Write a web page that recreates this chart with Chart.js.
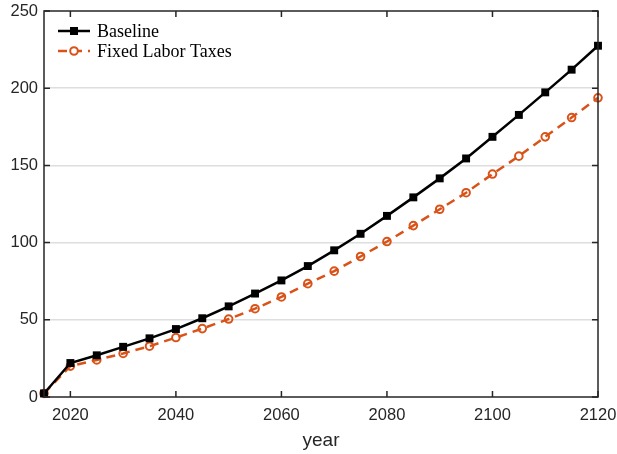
<!DOCTYPE html>
<html>
<head>
<meta charset="utf-8">
<script src="https://cdn.jsdelivr.net/npm/chart.js@4"></script>
<style>
  html, body { margin: 0; padding: 0; background: #fff; }
  #wrap { width: 617px; height: 454px; }
</style>
</head>
<body>
<div id="wrap"><canvas id="myChart" width="617" height="454"></canvas></div>
<script>
const years = [2015, 2020, 2025, 2030, 2035, 2040, 2045, 2050, 2055, 2060, 2065,
    2070, 2075, 2080, 2085, 2090, 2095, 2100, 2105, 2110, 2115, 2120];

const baseline = [2.3, 22, 27, 32.5, 38, 44, 51, 58.7, 67, 75.5, 84.8,
    95, 105.7, 117.3, 129.3, 141.6, 154.5, 168.5, 182.7, 197.3, 212, 227.5];

const fixedLabor = [2.3, 20, 24, 28.2, 32.9, 38.5, 44.3, 50.5, 57.2, 64.8, 73.4,
    81.5, 91, 100.7, 111, 121.6, 132.3, 144.4, 156, 168.5, 181, 193.8];

const xTicks = [2020, 2040, 2060, 2080, 2100, 2120];
const yTicks = [0, 50, 100, 150, 200, 250];

const axisColor = '#262626';
const orange = '#D95319';

const toPoints = (vals) => vals.map((v, i) => ({ x: years[i], y: v }));

// box round the plot plus MATLAB style inward ticks on all four sides
const boxPlugin = {
    id: 'box',
    afterDatasetsDraw(chart) {
        const { ctx, chartArea: a, scales } = chart;
        ctx.save();
        ctx.strokeStyle = axisColor;
        ctx.lineWidth = 1.5;
        ctx.beginPath();
        xTicks.forEach(t => {
            const px = scales.x.getPixelForValue(t);
            ctx.moveTo(px, a.bottom);
            ctx.lineTo(px, a.bottom - 6);
            ctx.moveTo(px, a.top);
            ctx.lineTo(px, a.top + 6);
        });
        yTicks.forEach(t => {
            const py = scales.y.getPixelForValue(t);
            ctx.moveTo(a.left, py);
            ctx.lineTo(a.left + 6, py);
            ctx.moveTo(a.right, py);
            ctx.lineTo(a.right - 6, py);
        });
        ctx.stroke();
        ctx.strokeRect(a.left, a.top, a.right - a.left, a.bottom - a.top);
        ctx.restore();
    }
};

// legend drawn inside the top-left corner
const legendPlugin = {
    id: 'insideLegend',
    afterDraw(chart) {
        const { ctx } = chart;
        const x0 = 58, x1 = 90, tx = 97;
        const rows = [31, 51];
        ctx.save();
        chart.data.datasets.forEach((ds, i) => {
            const y = rows[i];
            ctx.strokeStyle = ds.borderColor;
            ctx.lineWidth = ds.borderWidth;
            ctx.setLineDash(ds.borderDash || []);
            ctx.beginPath();
            ctx.moveTo(x0, y);
            ctx.lineTo(x1, y);
            ctx.stroke();
            ctx.setLineDash([]);
            const cx = (x0 + x1) / 2;
            if (ds.pointStyle === 'rect') {
                ctx.fillStyle = ds.pointBackgroundColor;
                ctx.fillRect(cx - 4, y - 4, 8, 8);
            } else {
                ctx.fillStyle = '#fff';
                ctx.lineWidth = ds.pointBorderWidth;
                ctx.beginPath();
                ctx.arc(cx, y, ds.pointRadius, 0, Math.PI * 2);
                ctx.fill();
                ctx.stroke();
            }
            ctx.fillStyle = '#000';
            ctx.font = '18px "Liberation Serif", serif';
            ctx.textBaseline = 'middle';
            ctx.textAlign = 'left';
            ctx.fillText(ds.label, tx, y + 1);
        });
        ctx.restore();
    }
};

const data = {
    datasets: [{
        label: 'Baseline',
        data: toPoints(baseline),
        borderColor: '#000',
        borderWidth: 2.5,
        pointStyle: 'rect',
        pointRadius: 5.6,
        pointBackgroundColor: '#000',
        pointBorderColor: '#000',
        pointBorderWidth: 0,
        tension: 0,
        clip: 8
    }, {
        label: 'Fixed Labor Taxes',
        data: toPoints(fixedLabor),
        borderColor: orange,
        borderWidth: 2.5,
        borderDash: [9, 6],
        pointStyle: 'circle',
        pointRadius: 3.8,
        pointBackgroundColor: 'rgba(0,0,0,0)',
        pointBorderColor: orange,
        pointBorderWidth: 2,
        tension: 0,
        clip: 8
    }]
};

const config = {
    type: 'line',
    data: data,
    options: {
        responsive: false,
        animation: false,
        layout: { padding: { left: 0, right: 19, top: 11, bottom: 0 } },
        plugins: {
            legend: { display: false },
            tooltip: { enabled: false }
        },
        scales: {
            x: {
                type: 'linear',
                min: 2015,
                max: 2120,
                afterBuildTicks: (scale) => { scale.ticks = xTicks.map(v => ({ value: v })); },
                afterFit: (scale) => {
                    scale.height = 57;
                    scale.paddingLeft = 0;
                    scale.paddingRight = 0;
                },
                grid: { display: false, drawTicks: false },
                border: { display: false },
                ticks: {
                    color: axisColor,
                    font: { family: '"Liberation Sans", Arial, sans-serif', size: 16.5 },
                    padding: 9,
                    maxRotation: 0,
                    callback: (v) => String(v)
                },
                title: {
                    display: true,
                    text: 'year',
                    color: axisColor,
                    font: { family: '"Liberation Sans", Arial, sans-serif', size: 19 },
                    padding: { top: 0, bottom: 2 }
                }
            },
            y: {
                min: 0,
                max: 250,
                afterBuildTicks: (scale) => { scale.ticks = yTicks.map(v => ({ value: v })); },
                afterFit: (scale) => {
                    scale.width = 44;
                    scale.paddingTop = 0;
                    scale.paddingBottom = 0;
                },
                grid: {
                    color: (c) => (c.tick.value === 0 || c.tick.value === 250) ? 'rgba(0,0,0,0)' : '#dedede',
                    lineWidth: 1.5,
                    drawTicks: false
                },
                border: { display: false },
                ticks: {
                    color: axisColor,
                    font: { family: '"Liberation Sans", Arial, sans-serif', size: 16.5 },
                    padding: 6
                }
            }
        }
    },
    plugins: [boxPlugin, legendPlugin]
};

const myChart = new Chart(
    document.getElementById('myChart'),
    config
);
</script>
</body>
</html>
